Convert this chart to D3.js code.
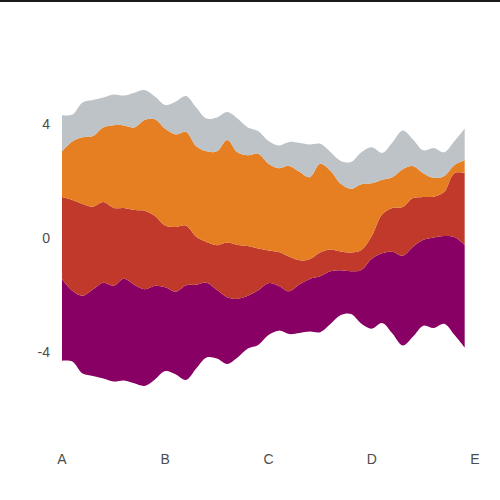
<!DOCTYPE html>
<html>
<head>
<meta charset="utf-8">
<script src="https://cdn.jsdelivr.net/npm/d3@7"></script>
<style>
  html, body { margin: 0; padding: 0; background: #fff; }
  svg { display: block; }
  .tick-label { font-family: "Liberation Sans", Arial, sans-serif; font-size: 14px; fill: #4d4d4d; }
</style>
</head>
<body>
<svg id="chart"></svg>
<script>
// x positions of the samples (A = 0 ... E = 4)
const xs = d3.range(40).map(i => i / 10);

const categories = ['A', 'B', 'C', 'D', 'E'];
const yTicks = [-4, 0, 4];

// layer thickness at each sample, bottom layer first
const purple = [2.87, 2.48, 2.73, 3.04, 3.36, 3.36, 3.57, 3.46, 3.39, 3.29,
                2.94, 2.90, 3.32, 2.94, 2.62, 2.41, 2.34, 2.06, 1.85, 1.92,
                1.82, 1.57, 1.50, 1.71, 1.85, 1.96, 1.85, 1.57, 1.50, 1.89,
                2.45, 2.45, 2.87, 3.15, 3.15, 3.01, 3.18, 3.08, 3.43, 3.60];
const red    = [2.87, 3.18, 3.22, 2.90, 2.83, 2.73, 2.48, 2.62, 2.76, 2.45,
                2.17, 2.27, 2.10, 1.68, 1.43, 1.57, 1.92, 1.89, 1.75, 1.47,
                1.15, 1.19, 1.22, 0.84, 0.70, 0.84, 0.77, 0.66, 0.66, 0.70,
                0.80, 1.36, 1.54, 1.71, 1.71, 1.50, 1.43, 1.54, 2.24, 2.52];
const orange = [1.61, 2.06, 2.34, 2.48, 2.62, 2.90, 2.90, 2.90, 3.18, 3.39,
                3.39, 3.25, 3.29, 3.18, 3.18, 3.29, 3.60, 3.25, 3.18, 3.32,
                3.04, 2.94, 3.18, 3.11, 2.87, 3.11, 2.76, 2.38, 2.24, 2.31,
                1.85, 1.22, 1.08, 1.33, 1.12, 0.84, 0.66, 0.56, 0.28, 0.45];
const grey   = [1.26, 0.94, 1.22, 1.26, 1.05, 1.08, 1.05, 1.22, 1.05, 0.80,
                0.84, 1.15, 1.26, 1.36, 1.15, 1.19, 0.98, 1.19, 0.98, 0.80,
                0.80, 0.80, 0.84, 1.01, 1.15, 0.70, 0.66, 0.80, 0.94, 1.12,
                1.26, 0.94, 1.22, 1.36, 0.94, 0.80, 1.05, 0.84, 0.84, 1.12];

const keys = ['purple', 'red', 'orange', 'grey'];
const colors = { purple: '#880064', red: '#c0392b', orange: '#e67e22', grey: '#bdc3c7' };

const table = xs.map((x, i) => ({
    x: x, purple: purple[i], red: red[i], orange: orange[i], grey: grey[i]
}));

const width = 500, height = 500;

const svg = d3.select('#chart')
    .attr('width', width)
    .attr('height', height);

const xScale = d3.scaleLinear().domain([0, 4]).range([62, 475]);
const yScale = d3.scaleLinear().domain([-4, 4]).range([352, 124]);

// streamgraph: stacked and centred on zero
const series = d3.stack()
    .keys(keys)
    .offset(d3.stackOffsetSilhouette)(table);

const area = d3.area()
    .x(d => xScale(d.data.x))
    .y0(d => yScale(d[0]))
    .y1(d => yScale(d[1]))
    .curve(d3.curveCatmullRom.alpha(0.5));

svg.append('g')
    .selectAll('path')
    .data(series)
    .join('path')
    .attr('d', area)
    .attr('fill', d => colors[d.key]);

// top border
svg.append('line')
    .attr('x1', 0).attr('x2', width)
    .attr('y1', 1).attr('y2', 1)
    .attr('stroke', '#1a1a1a')
    .attr('stroke-width', 2);

// y tick labels
svg.append('g')
    .selectAll('text')
    .data(yTicks)
    .join('text')
    .attr('class', 'tick-label')
    .attr('x', 50)
    .attr('y', d => yScale(d))
    .attr('dy', '0.36em')
    .attr('text-anchor', 'end')
    .text(d => d);

// x tick labels
svg.append('g')
    .selectAll('text')
    .data(categories)
    .join('text')
    .attr('class', 'tick-label')
    .attr('x', (d, i) => xScale(i))
    .attr('y', 459)
    .attr('dy', '0.36em')
    .attr('text-anchor', 'middle')
    .text(d => d);
</script>
</body>
</html>
